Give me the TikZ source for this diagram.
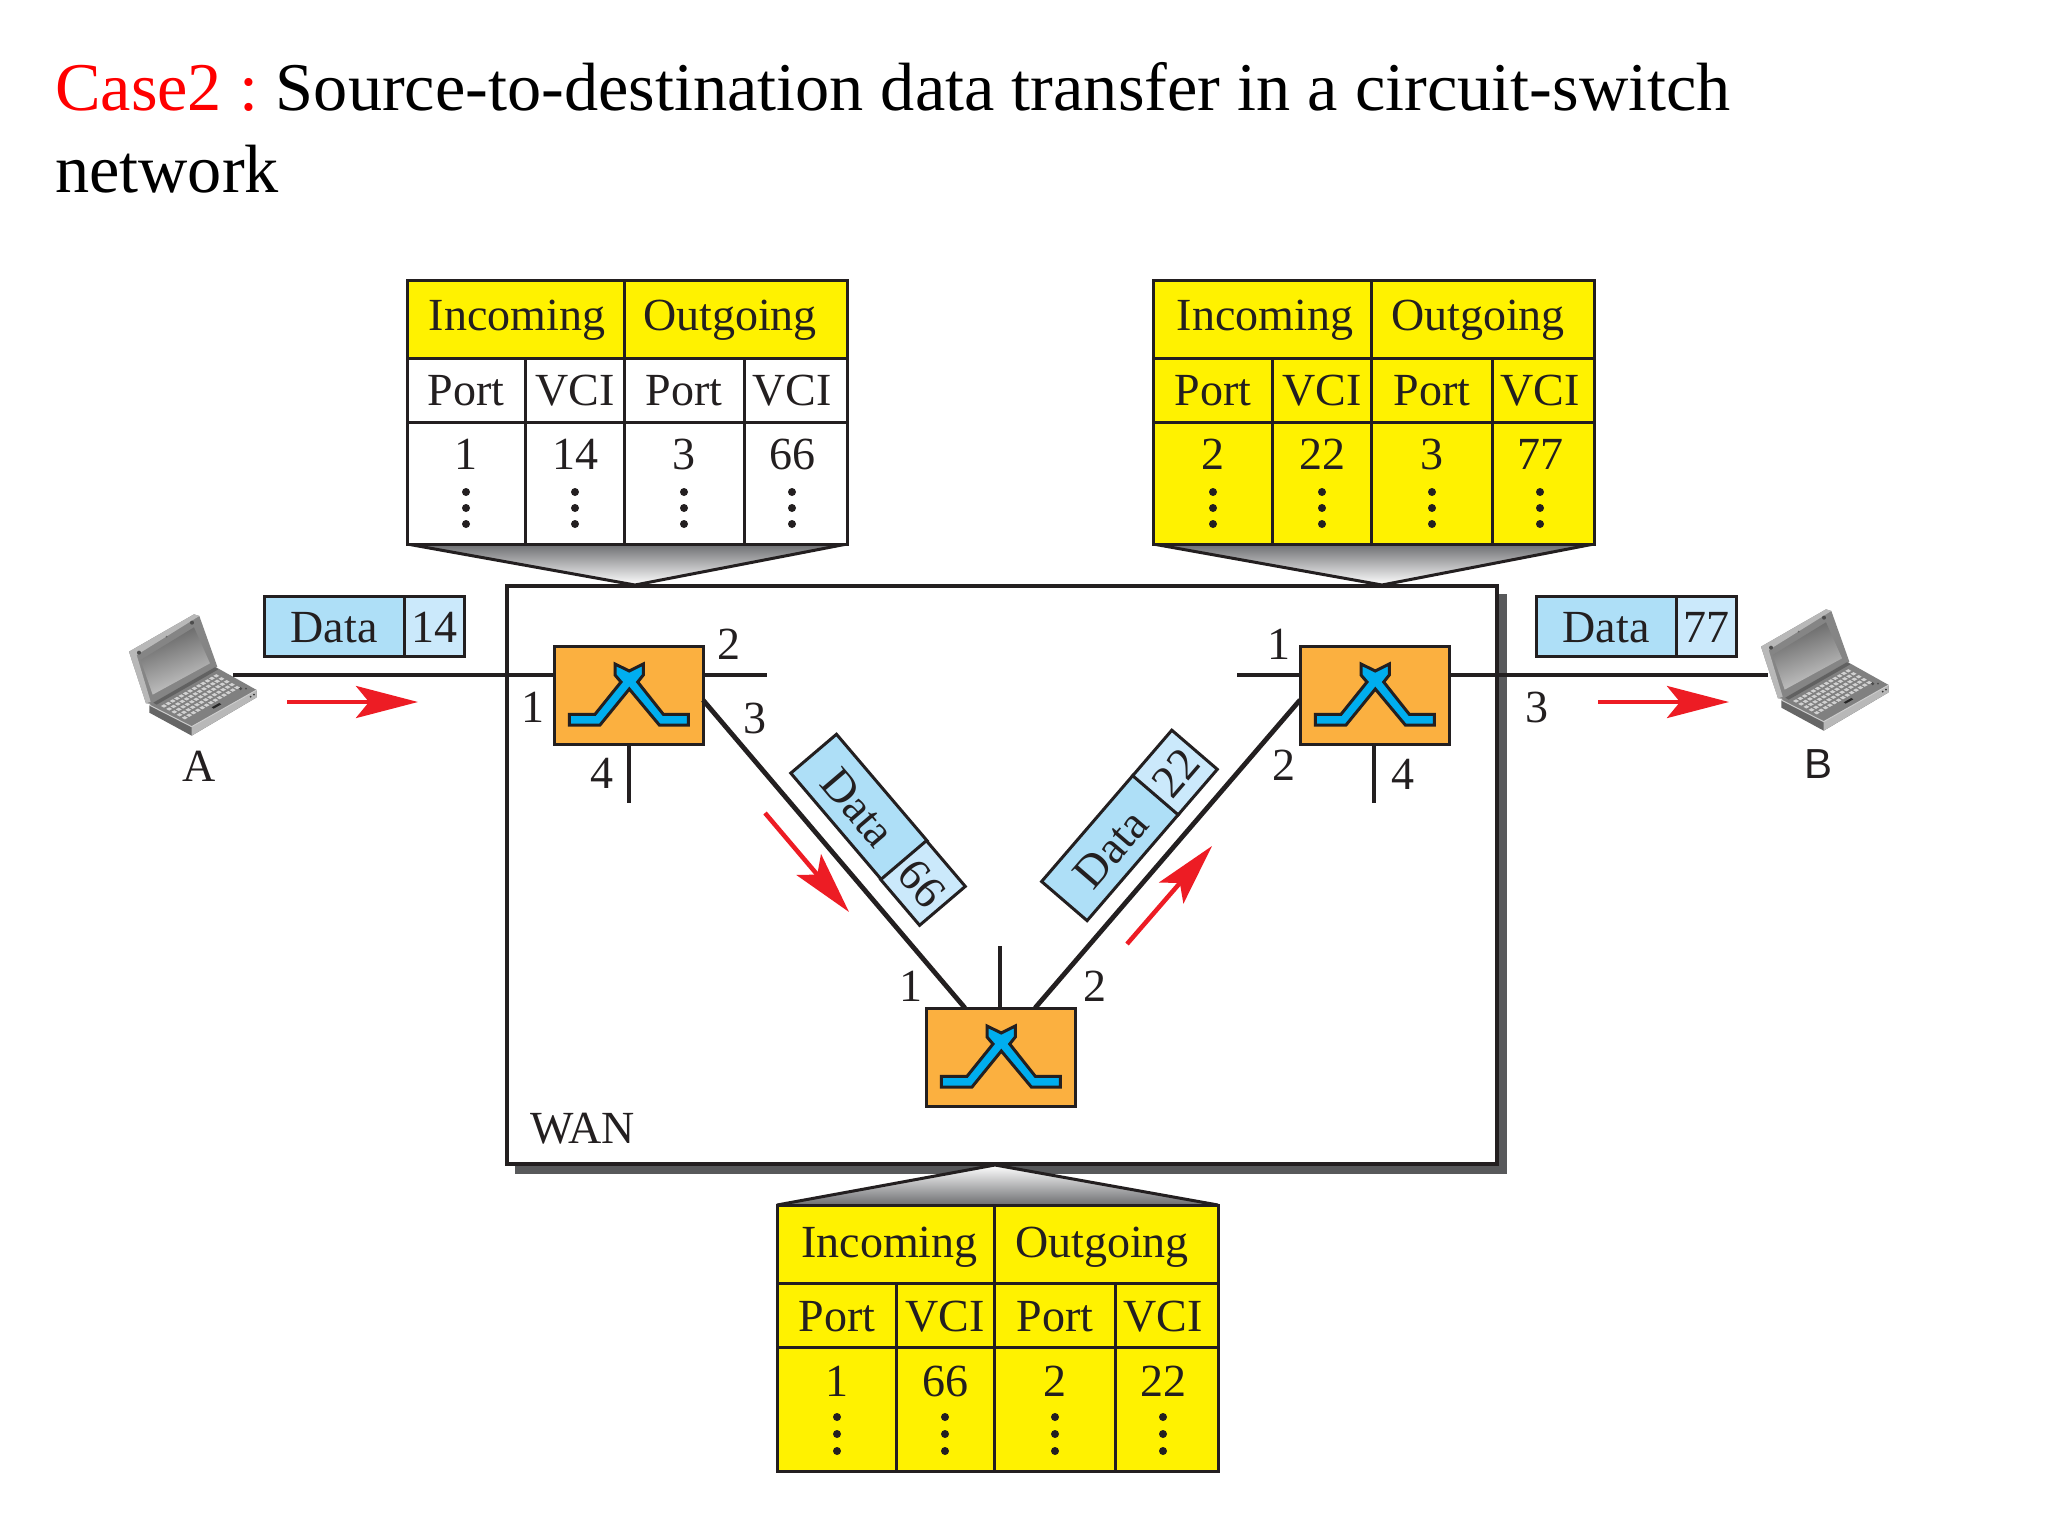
\documentclass[tikz,border=0pt]{standalone}
\usepackage{fontspec}
\setmainfont{Liberation Serif}
\newfontfamily\labelsans{Liberation Sans}
\usetikzlibrary{arrows.meta}
\definecolor{ink}{HTML}{231F20}
\definecolor{tabyellow}{HTML}{FFF200}
\definecolor{swfill}{HTML}{FBB040}
\definecolor{swblue}{HTML}{00AEEF}
\definecolor{dataA}{HTML}{AEDFF7}
\definecolor{dataB}{HTML}{CBE9FB}
\definecolor{redarrow}{HTML}{ED1C24}
\definecolor{shadowgray}{HTML}{58595B}
\definecolor{ptrgray}{HTML}{6D6E71}
\definecolor{titlered}{HTML}{FF0000}
\tikzset{
  txt/.style={anchor=base,inner sep=0pt,text=ink,font=\fontsize{46}{50}\selectfont},
  titletxt/.style={anchor=base west,inner sep=0pt,font=\fontsize{68.3}{72}\selectfont},
  tabline/.style={draw=ink,line width=3pt},
  ptr/.style={draw=ink,line width=3pt,line join=round},
  link/.style={draw=ink,line width=4.8pt},
  switchbox/.style={draw=ink,line width=3pt,fill=swfill,minimum width=149pt,minimum height=98pt,inner sep=0pt,outer sep=0pt},
  wanbox/.style={draw=ink,line width=3.4pt,fill=white,minimum width=990pt,minimum height=578pt,inner sep=0pt,outer sep=0pt},
  databox/.style={draw=ink,line width=3pt,inner sep=0pt,outer sep=0pt,text=ink,align=center,
     text height=46pt,text depth=14pt,font=\fontsize{46}{50}\selectfont},
  datamain/.style={databox,fill=dataA,minimum width=140pt},
  datatag/.style={databox,fill=dataB,minimum width=60pt},
  flow/.style={draw=redarrow,line width=4.5pt,-{Stealth[length=62pt,width=32pt,inset=13pt]}},
  icon/.style={draw=ink,line width=3pt,fill=swblue,line join=miter},
}
% one VCI table; positions come from \vt... macros
\newcommand\vcitable[6]{%
  \fill[tabyellow] (\vtXa,\vtYa) rectangle (\vtXe,\vtYb);
  \fill[#2] (\vtXa,\vtYb) rectangle (\vtXe,\vtYd);
  \draw[tabline] (\vtXa,\vtYa) rectangle (\vtXe,\vtYd);
  \draw[tabline] (\vtXa,\vtYb) -- (\vtXe,\vtYb);
  \draw[tabline] (\vtXa,\vtYc) -- (\vtXe,\vtYc);
  \draw[tabline] (\vtXc,\vtYa) -- (\vtXc,\vtYd);
  \draw[tabline] (\vtXb,\vtYb) -- (\vtXb,\vtYd);
  \draw[tabline] (\vtXd,\vtYb) -- (\vtXd,\vtYd);
  \node[txt] (#1in) at (\vtIa,\vtTa) {Incoming};
  \node[txt] (#1out) at (\vtIb,\vtTa) {Outgoing};
  \node[txt] (#1pa) at (\vtCa,\vtTb) {Port};
  \node[txt] (#1va) at (\vtCb,\vtTb) {VCI};
  \node[txt] (#1pb) at (\vtCc,\vtTb) {Port};
  \node[txt] (#1vb) at (\vtCd,\vtTb) {VCI};
  \node[txt] (#1a) at (\vtCa,\vtTc) {#3};
  \node[txt] (#1b) at (\vtCb,\vtTc) {#4};
  \node[txt] (#1c) at (\vtCc,\vtTc) {#5};
  \node[txt] (#1d) at (\vtCd,\vtTc) {#6};
  \foreach \cx in {\vtCa,\vtCb,\vtCc,\vtCd}
    \foreach \cy in {\vtDa,\vtDb,\vtDc}
      \fill[ink] (\cx,\cy) circle[radius=4pt];
}
% switching symbol, relative to the top left corner of a switch box
\newcommand\swicon[1]{%
  \draw[icon,shift={(#1)}] (15.3,68.3) -- (41,68.3) -- (67,36) -- (61,29) -- (61,18) -- (75.3,25)
    -- (89.3,18) -- (89.3,29) -- (83.7,36) -- (109.3,68.3) -- (134.3,68.3) -- (134.3,79)
    -- (105.3,79) -- (75.3,43) -- (46,79) -- (15.3,79) -- cycle;
}
\newcommand\laptop[2]{%
  \begin{scope}[shift={(#1,#2)},x=0.3333pt,y=-0.3333pt]
    % lid
    \fill[black!48] (27,125) -- (222,13) -- (238,18) -- (292,170) -- (96,282) -- (78,280) -- cycle;
    \fill[black!28] (27,125) -- (222,13) -- (238,18) -- (50,135) -- (92,275) -- (78,280) -- cycle;
    \shade[top color=black!62,bottom color=black!20,shading angle=20]
       (62,150) -- (222,52) -- (270,160) -- (98,254) -- cycle;
    \fill[black!70] (57,128) circle[radius=6];
    \fill[black!70] (216,38) circle[radius=6];
    \fill[black!60] (140,80) circle[radius=3];
    % base
    \fill[black!60] (88,285) -- (88,308) -- (215,377) -- (410,262) -- (410,240) -- (215,350) -- cycle;
    \fill[black!28] (215,350) -- (215,377) -- (410,262) -- (410,240) -- cycle;
    \fill[black!50] (88,285) -- (285,170) -- (410,240) -- (215,350) -- cycle;
    \draw[black!20,line width=1pt] (88,285) -- (215,350) -- (410,240);
    \fill[black!62] (100,278) -- (285,172) -- (295,178) -- (110,284) -- cycle;
    % keys
    \foreach \ur in {0,...,4}
      \foreach \uc in {0,...,12}
        \fill[black!18]
          ({112+170*\uc/13+78*\ur/5+11},{288-98*\uc/13+44*\ur/5})
          -- ({112+170*\uc/13+78*\ur/5+20},{288-98*\uc/13+44*\ur/5-5})
          -- ({112+170*\uc/13+78*\ur/5+29},{288-98*\uc/13+44*\ur/5})
          -- ({112+170*\uc/13+78*\ur/5+20},{288-98*\uc/13+44*\ur/5+5}) -- cycle;
    \fill[black!85] (275,292) -- (298,279) -- (304,283) -- (281,296) -- cycle;
    \fill[black!70] (362,236) circle[radius=5];
    \fill[black!70] (378,236) circle[radius=3];
    \fill[black!80] (392,260) circle[radius=3];
    \fill[black!80] (402,254) circle[radius=3];
  \end{scope}
}
\begin{document}
\begin{tikzpicture}[x=1pt,y=-1pt]
\useasboundingbox (0,0) rectangle (2048,1536);
\fill[white] (0,0) rectangle (2048,1536);

% title
\node[titletxt] (title1) at (55,111) {\textcolor{titlered}{Case2\hspace{0.26em}:}\hspace{0.25em}Source-to-destination data transfer in a circuit-switch};
\node[titletxt] (title2) at (55,193) {network};

% WAN
\fill[shadowgray] (515,594) rectangle (1507,1174);
\node[wanbox] (wan) at (1002,875) {};
\node[txt,anchor=base west] (wanlabel) at (530,1143) {WAN};

% switches
\node[switchbox] (s1) at (628.5,695) {};
\node[switchbox] (s2) at (1374.5,695) {};
\node[switchbox] (s3) at (1000.5,1057) {};
\swicon{554,646}
\swicon{1300,646}
\swicon{926,1008}

% free ends
\coordinate (pcA) at (233,675);
\coordinate (pcB) at (1768,675);
\coordinate (s1r) at (767,675);
\coordinate (s1d) at (629,803);
\coordinate (s2l) at (1237,675);
\coordinate (s2d) at (1374,803);
\coordinate (s3u) at (1000,946);

% links
\draw[link] (pcA) -- (pcA -| s1.west);
\draw[link] (s1r -| s1.east) -- (s1r);
\draw[link] (s1d |- s1.south) -- (s1d);
\draw[link] (s2l) -- (s2l -| s2.west);
\draw[link] (pcB -| s2.east) -- (pcB);
\draw[link] (s2d |- s2.south) -- (s2d);
\draw[link] (s3u |- s3.north) -- (s3u);
\draw[link] ([yshift=-5pt]s1.east) -- ([xshift=-35.5pt]s3.north);
\draw[link] ([yshift=-5pt]s2.west) -- ([xshift=34.5pt]s3.north);

% port labels
\node[txt] (p1a) at (533,722) {1};
\node[txt] (p1b) at (729,659) {2};
\node[txt] (p1c) at (755,733) {3};
\node[txt] (p1d) at (602,788) {4};
\node[txt] (p2a) at (1279,659) {1};
\node[txt] (p2b) at (1284,780) {2};
\node[txt] (p2c) at (1537,722) {3};
\node[txt] (p2d) at (1403,789) {4};
\node[txt] (p3a) at (911,1001) {1};
\node[txt] (p3b) at (1095,1001) {2};

% data units
\node[datamain] (dA) at (334,626) {Data};
\node[datatag] (tA) at (434,626) {14};
\node[datamain] (dB) at (1606,626) {Data};
\node[datatag] (tB) at (1706,626) {77};
\node[datamain,rotate=-49.6] (dC) at (859,807) {Data};
\node[datatag,rotate=-49.6] (tC) at (923,883) {66};
\node[datamain,rotate=49.3] (dD) at (1110,848) {Data};
\node[datatag,rotate=49.3] (tD) at (1175,772.5) {22};

% flow arrows
\coordinate (fa1) at (287,702); \coordinate (fa2) at (418,702);
\coordinate (fb1) at (1598,702); \coordinate (fb2) at (1729,702);
\coordinate (fc1) at (765,813); \coordinate (fc2) at (849,912);
\coordinate (fd1) at (1127,944); \coordinate (fd2) at (1212,846);
\draw[flow] (fa1) -- (fa2);
\draw[flow] (fb1) -- (fb2);
\draw[flow] (fc1) -- (fc2);
\draw[flow] (fd1) -- (fd2);

% hosts
\laptop{120}{610}
\laptop{1752}{605}
\node[txt] (hostA) at (199,781) {A};
\node[txt,font=\labelsans\fontsize{42}{46}\selectfont] (hostB) at (1818,778) {B};

% table pointers
\shade[top color=ptrgray,bottom color=white] (407,544) -- (847,544) -- (635,585) -- cycle;
\draw[ptr] (407,544) -- (635,585) -- (847,544);
\shade[top color=ptrgray,bottom color=white] (1153,544) -- (1594,544) -- (1382,585) -- cycle;
\draw[ptr] (1153,544) -- (1382,585) -- (1594,544);
\shade[top color=white,bottom color=ptrgray] (777,1205) -- (1218,1205) -- (995,1165) -- cycle;
\draw[ptr] (777,1205) -- (995,1165) -- (1218,1205);

% tables
\def\vtYa{280}\def\vtYb{358}\def\vtYc{422}\def\vtYd{544}
\def\vtTa{330}\def\vtTb{405}\def\vtTc{469}
\def\vtDa{492}\def\vtDb{508}\def\vtDc{524}
\def\vtXa{407}\def\vtXb{525}\def\vtXc{624}\def\vtXd{744}\def\vtXe{847}
\def\vtCa{466}\def\vtCb{575}\def\vtCc{684}\def\vtCd{792}
\def\vtIa{517}\def\vtIb{730}
\vcitable{ta}{white}{1}{14}{3}{66}

\def\vtXa{1153}\def\vtXb{1272}\def\vtXc{1371}\def\vtXd{1492}\def\vtXe{1594}
\def\vtCa{1213}\def\vtCb{1322}\def\vtCc{1432}\def\vtCd{1540}
\def\vtIa{1265}\def\vtIb{1478}
\vcitable{tb}{tabyellow}{2}{22}{3}{77}

\def\vtYa{1205}\def\vtYb{1283}\def\vtYc{1347}\def\vtYd{1471}
\def\vtTa{1257}\def\vtTb{1331}\def\vtTc{1396}
\def\vtDa{1417}\def\vtDb{1434}\def\vtDc{1451}
\def\vtXa{777}\def\vtXb{896}\def\vtXc{994}\def\vtXd{1115}\def\vtXe{1218}
\def\vtCa{837}\def\vtCb{945}\def\vtCc{1055}\def\vtCd{1163}
\def\vtIa{889.5}\def\vtIb{1102}
\vcitable{tc}{tabyellow}{1}{66}{2}{22}
\end{tikzpicture}
\end{document}
